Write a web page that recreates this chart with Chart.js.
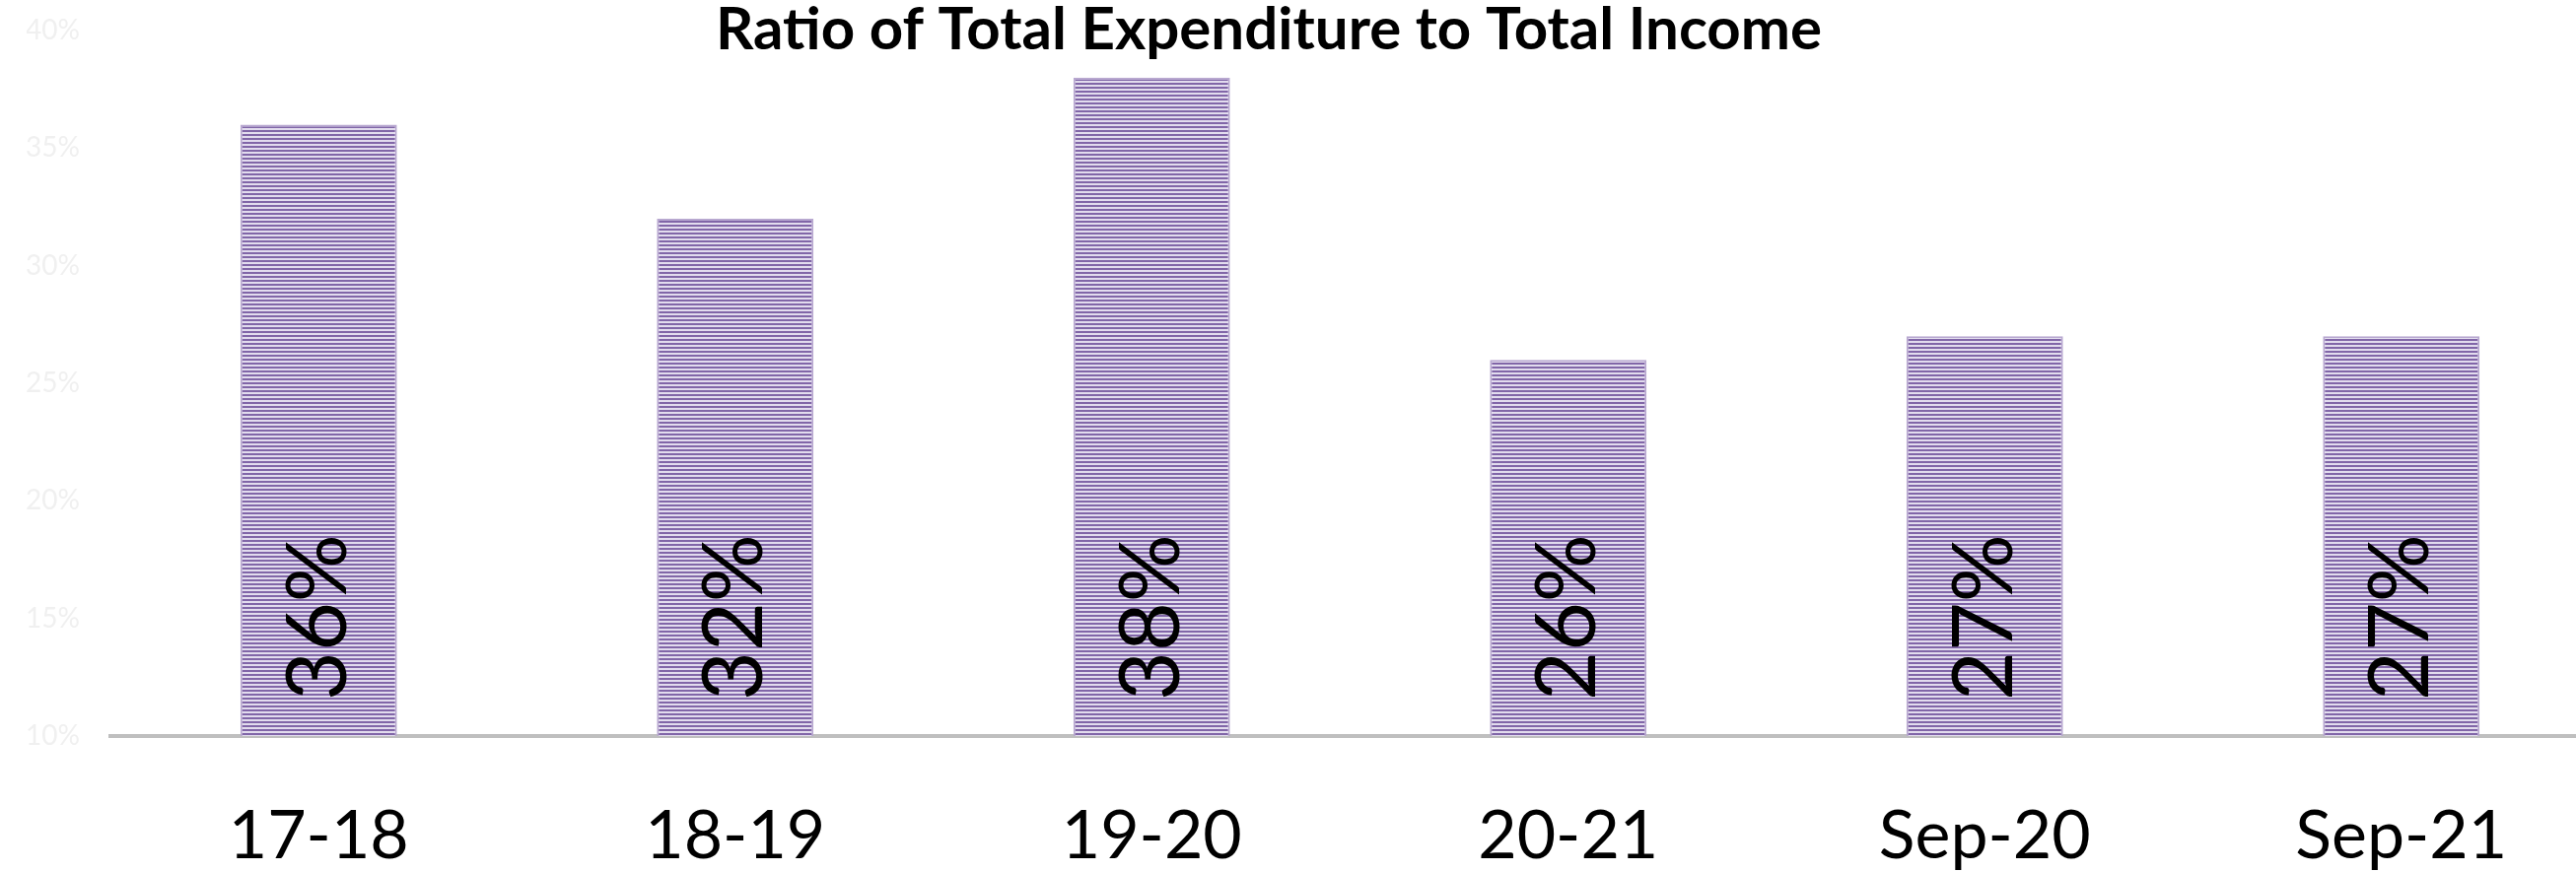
<!DOCTYPE html>
<html>
<head>
<meta charset="utf-8">
<script src="https://cdn.jsdelivr.net/npm/chart.js@4.4.0/dist/chart.umd.min.js"></script>
<style>
    html, body { margin: 0; padding: 0; background: #fff; overflow: hidden; }
</style>
</head>
<body>
<canvas id="ratioChart" width="2647" height="885"></canvas>
<script>
// chart data
const categories = ['17-18', '18-19', '19-20', '20-21', 'Sep-20', 'Sep-21'];
const ratioValues = [36, 32, 38, 26, 27, 27];
const yTicks = [10, 15, 20, 25, 30, 35, 40];
const chartTitle = 'Ratio of Total Expenditure to Total Income';

document.addEventListener('DOMContentLoaded', () => {
    const canvas = document.getElementById('ratioChart');
    const ctx = canvas.getContext('2d');

    // horizontal stripe fill like the office "narrow horizontal" pattern
    const tile = document.createElement('canvas');
    tile.width = 4;
    tile.height = 4;
    const t = tile.getContext('2d');
    t.fillStyle = '#e2dcee';
    t.fillRect(0, 0, 4, 4);
    t.fillStyle = '#8166a8';
    t.fillRect(0, 0, 4, 2);
    const stripes = ctx.createPattern(tile, 'repeat');

    // rotated value labels inside the bars
    const barLabels = {
        id: 'barLabels',
        afterDatasetsDraw(chart) {
            const c = chart.ctx;
            const meta = chart.getDatasetMeta(0);
            const bottom = chart.chartArea.bottom;
            c.save();
            c.font = '86px Lato';
            c.fillStyle = '#000';
            c.textAlign = 'left';
            c.textBaseline = 'middle';
            meta.data.forEach((bar, i) => {
                c.save();
                c.translate(bar.x, bottom - 36);
                c.rotate(-Math.PI / 2);
                c.fillText(ratioValues[i] + '%', 0, 0);
                c.restore();
            });
            c.restore();
        }
    };

    // title sits over the top of the plot, like the original
    const overlayTitle = {
        id: 'overlayTitle',
        afterDraw(chart) {
            const c = chart.ctx;
            c.save();
            c.font = 'bold 60px Lato';
            c.fillStyle = '#000';
            c.textAlign = 'center';
            c.textBaseline = 'alphabetic';
            c.fillText(chartTitle, 1287, 50);
            c.restore();
        }
    };

    new Chart(ctx, {
        type: 'bar',
        data: {
            labels: categories,
            datasets: [{
                data: ratioValues,
                backgroundColor: stripes,
                borderColor: '#b8a8d0',
                borderWidth: 2,
                barPercentage: 0.376,
                categoryPercentage: 1
            }]
        },
        options: {
            responsive: false,
            devicePixelRatio: 1,
            animation: false,
            layout: { padding: { left: 27, top: 31, right: 0, bottom: 0 } },
            plugins: {
                legend: { display: false },
                title: { display: false },
                tooltip: { enabled: false }
            },
            scales: {
                x: {
                    grid: { display: false, drawTicks: false },
                    border: { color: '#bfbfbf', width: 4 },
                    afterFit: scale => { scale.height = 138; },
                    ticks: {
                        color: '#000',
                        padding: 68,
                        maxRotation: 0,
                        font: { family: 'Lato', size: 68, lineHeight: 1 }
                    }
                },
                y: {
                    min: 10,
                    max: 40,
                    afterBuildTicks: scale => {
                        scale.ticks = yTicks.map(v => ({ value: v }));
                    },
                    afterFit: scale => {
                        // tick padding should only push labels sideways
                        scale.width = 85;
                        scale.paddingTop = 17;
                        scale.paddingBottom = 17;
                    },
                    grid: { display: false, drawTicks: false },
                    border: { display: false },
                    ticks: {
                        color: '#f0f0f0',
                        padding: 31,
                        font: { family: 'Lato', size: 28 },
                        callback: v => v + '%'
                    }
                }
            }
        },
        plugins: [barLabels, overlayTitle]
    });
});
</script>
</body>
</html>
